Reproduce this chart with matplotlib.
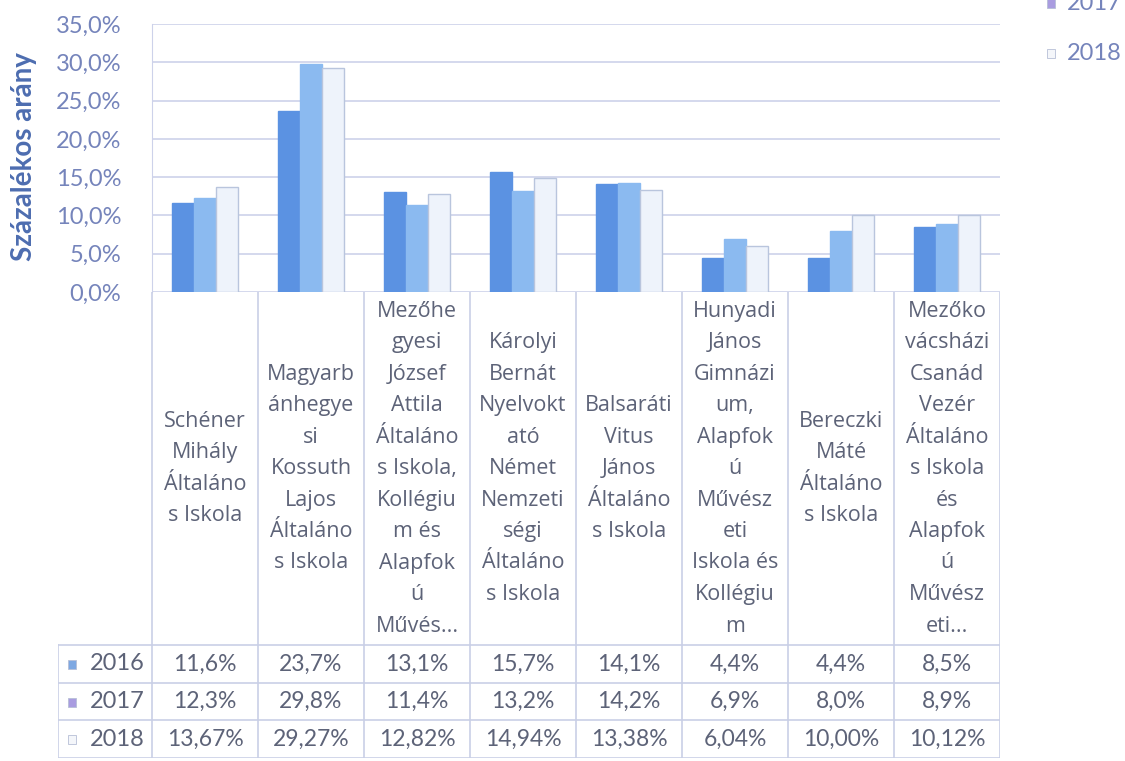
import numpy as np
import matplotlib
matplotlib.use('Agg')
import matplotlib.pyplot as plt
from matplotlib.patches import Rectangle

plt.rcParams['font.family'] = ['Lato', 'DejaVu Sans']

# data
schools = [
    'Schéner\nMihály\nÁltaláno\ns Iskola',
    'Magyarb\nánhegye\nsi\nKossuth\nLajos\nÁltaláno\ns Iskola',
    'Mezőhe\ngyesi\nJózsef\nAttila\nÁltaláno\ns Iskola,\nKollégiu\nm és\nAlapfok\nú\nMűvés...',
    'Károlyi\nBernát\nNyelvokt\nató\nNémet\nNemzeti\nségi\nÁltaláno\ns Iskola',
    'Balsaráti\nVitus\nJános\nÁltaláno\ns Iskola',
    'Hunyadi\nJános\nGimnázi\num,\nAlapfok\nú\nMűvész\neti\nIskola és\nKollégiu\nm',
    'Bereczki\nMáté\nÁltaláno\ns Iskola',
    'Mezőko\nvácsházi\nCsanád\nVezér\nÁltaláno\ns Iskola\nés\nAlapfok\nú\nMűvész\neti...',
]
years = ['2016', '2017', '2018']
vals_2016 = [11.6, 23.7, 13.1, 15.7, 14.1, 4.4, 4.4, 8.5]
vals_2017 = [12.3, 29.8, 11.4, 13.2, 14.2, 6.9, 8.0, 8.9]
vals_2018 = [13.67, 29.27, 12.82, 14.94, 13.38, 6.04, 10.00, 10.12]
labels_2016 = ['11,6%', '23,7%', '13,1%', '15,7%', '14,1%', '4,4%', '4,4%', '8,5%']
labels_2017 = ['12,3%', '29,8%', '11,4%', '13,2%', '14,2%', '6,9%', '8,0%', '8,9%']
labels_2018 = ['13,67%', '29,27%', '12,82%', '14,94%', '13,38%', '6,04%', '10,00%', '10,12%']
yticks = [0, 5, 10, 15, 20, 25, 30, 35]
ytick_labels = ['0,0%', '5,0%', '10,0%', '15,0%', '20,0%', '25,0%', '30,0%', '35,0%']

series = [vals_2016, vals_2017, vals_2018]
row_labels = [labels_2016, labels_2017, labels_2018]
bar_colors = ['#5b92e2', '#8bbaf0', '#eef3fb']
edge_colors = ['#5b92e2', '#8bbaf0', '#b9c5dd']
icon_colors = ['#7ea8e2', '#a99ce0', '#f4f6fa']
text_col = '#5d6378'
axis_col = '#7584bb'
grid_col = '#cdd2ea'

W, H = 1125, 761
fig = plt.figure(figsize=(W / 100, H / 100), dpi=100)

# plot area in pixels
x0, x1 = 152, 1000
y_top, y_zero = 24, 292
ax = fig.add_axes([x0 / W, 1 - y_zero / H, (x1 - x0) / W, (y_zero - y_top) / H])
n = len(schools)
x = np.arange(n)
bw = 0.21
for k, vals in enumerate(series):
    ax.bar(x + (k - 1) * bw, vals, width=bw, color=bar_colors[k],
           edgecolor=edge_colors[k], linewidth=1.0, zorder=3)
ax.set_xlim(-0.5, n - 0.5)
ax.set_ylim(0, 35)
ax.set_yticks(yticks)
ax.set_yticklabels(ytick_labels, fontsize=17, color=axis_col)
ax.tick_params(axis='y', length=0, pad=22)
ax.set_xticks([])
ax.grid(axis='y', color=grid_col, linewidth=1.2, zorder=0)
for s in ['top', 'right', 'bottom']:
    ax.spines[s].set_visible(False)
ax.spines['left'].set_color(grid_col)
ax.set_ylabel('Százalékos arány', fontsize=20, fontweight='bold', color='#4d6db0')
ax.yaxis.set_label_coords(-(x0 - 37) / (x1 - x0), (y_zero - 157) / (y_zero - y_top))

# data table below the plot
t_left, t_bot = 58, 758
unit = (x1 - x0) / n
tax = fig.add_axes([t_left / W, 1 - t_bot / H, (x1 - t_left) / W, (t_bot - y_zero) / H])
tax.set_xlim(-0.5 - (x0 - t_left) / unit, n - 0.5)
tax.set_ylim(t_bot, y_zero)
tax.axis('off')

line_col = '#c9cfe6'
rows_y = [645, 683, 720, 758]
for b in range(n + 1):
    tax.plot([b - 0.5, b - 0.5], [y_zero, t_bot], color=line_col, lw=1.2)
xl = -0.5 - (x0 - t_left) / unit
tax.plot([xl, xl], [rows_y[0], t_bot], color=line_col, lw=1.2)
for ry in rows_y:
    tax.plot([xl, n - 0.5], [ry, ry], color=line_col, lw=1.2)

# category labels, centred in the label cells
lab_mid = (y_zero + rows_y[0]) / 2
pitch = 31.5
for i, name in enumerate(schools):
    lines = name.split('\n')
    for j, ln in enumerate(lines):
        yy = lab_mid + (j - (len(lines) - 1) / 2) * pitch
        tax.text(i, yy, ln, ha='center', va='center', fontsize=15.5, color=text_col,
                 family=['Open Sans', 'DejaVu Sans'])

# value rows
for r in range(3):
    yc = (rows_y[r] + rows_y[r + 1]) / 2
    tax.add_patch(Rectangle((xl + 10 / unit, yc - 4), 8 / unit, 9,
                            facecolor=icon_colors[r], edgecolor='#b7bfd6', lw=0.6))
    tax.text(xl + 32 / unit, yc, years[r], ha='left', va='center', fontsize=17, color=text_col)
    for i in range(n):
        tax.text(i, yc, row_labels[r][i], ha='center', va='center', fontsize=16.5, color=text_col)

# legend (top part runs off the canvas)
for k, yr in enumerate(years):
    ly = 53 - 50 * (2 - k)
    fig.patches.append(Rectangle((1047 / W, 1 - (ly + 5) / H), 8 / W, 9 / H,
                                 transform=fig.transFigure, facecolor=icon_colors[k],
                                 edgecolor='#b7bfd6', lw=0.6))
    fig.text(1067 / W, 1 - ly / H, yr, ha='left', va='center', fontsize=17, color=axis_col)

fig.savefig('out.png', dpi=100)
